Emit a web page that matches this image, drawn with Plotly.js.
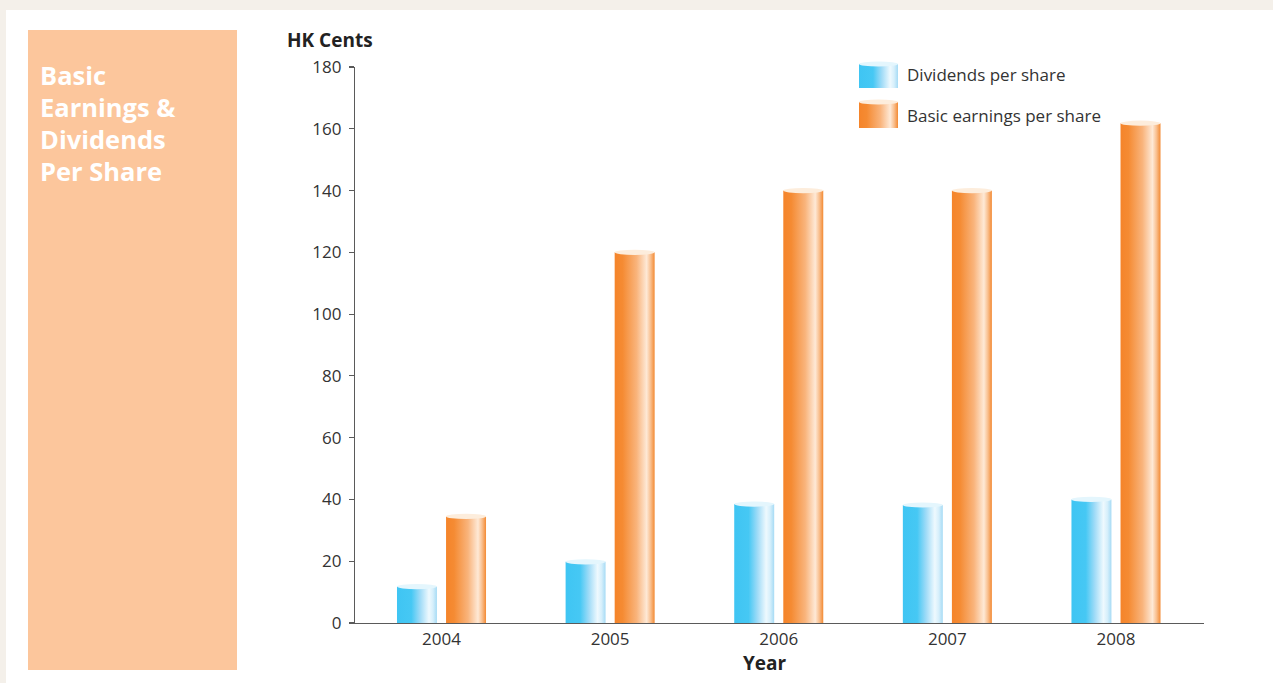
<!DOCTYPE html>
<html>
<head>
<meta charset="utf-8">
<script src="https://cdn.plot.ly/plotly-3.0.1.min.js"></script>
<style>
  html, body { margin: 0; padding: 0; width: 1273px; height: 683px; overflow: hidden; background: #f4f0ea; }
  #sheet { position: absolute; left: 6px; top: 10px; width: 1267px; height: 673px; background: #ffffff; }
  #band { position: absolute; left: 28px; top: 30px; width: 209px; height: 640px; background: #fcc69c; }
  #chart { position: absolute; left: 0; top: 0; width: 1273px; height: 683px; }
</style>
</head>
<body>
<div id="sheet"></div>
<div id="band"></div>
<div id="chart"></div>
<script>
// Per-share figures, HK cents
const years = ['2004', '2005', '2006', '2007', '2008'];
const dividendsPerShare = [11.8, 19.8, 38.5, 38.2, 40.0];
const basicEarningsPerShare = [34.5, 120.0, 140.0, 140.0, 161.8];
const yTicks = [0, 20, 40, 60, 80, 100, 120, 140, 160, 180];
const seriesNames = ['Dividends per share', 'Basic earnings per share'];
const panelTitleLines = ['Basic', 'Earnings &amp;', 'Dividends', 'Per Share'];

const W = 1273, H = 683;
const M = { l: 355, r: 69, t: 67, b: 60 };
const PW = W - M.l - M.r, PH = H - M.t - M.b;
const px2x = px => (px - M.l) / PW;
const py2y = py => (H - M.b - py) / PH;

const FONT = '"Open Sans", "Noto Sans", sans-serif';
const INK = '#333333';

const traces = [
  {
    type: 'bar', name: seriesNames[0], x: years, y: dividendsPerShare,
    offset: -0.264, width: 0.237,
    marker: { color: '#41c7f4', line: { width: 0 } },
    hoverinfo: 'skip', showlegend: false
  },
  {
    type: 'bar', name: seriesNames[1], x: years, y: basicEarningsPerShare,
    offset: 0.027, width: 0.237,
    marker: { color: '#f5862b', line: { width: 0 } },
    hoverinfo: 'skip', showlegend: false
  }
];

// Side panel heading, one annotation per line for even spacing
const panelAnnotations = panelTitleLines.map((line, i) => ({
  xref: 'paper', yref: 'paper', x: px2x(38), y: py2y(75 + i * 32),
  xanchor: 'left', yanchor: 'middle', align: 'left', showarrow: false,
  text: line,
  font: { family: FONT, size: 25.5, color: '#ffffff', weight: 700 }
}));

const layout = {
  width: W, height: H,
  margin: M,
  paper_bgcolor: 'rgba(0,0,0,0)',
  plot_bgcolor: 'rgba(0,0,0,0)',
  font: { family: FONT, size: 17, color: INK },
  showlegend: false,
  xaxis: {
    type: 'category',
    range: [-0.513, 4.522],
    showline: true, linecolor: '#5a5a5a', linewidth: 1.2,
    ticks: '', showgrid: false, zeroline: false,
    tickfont: { family: FONT, size: 17, color: INK },
    fixedrange: true
  },
  yaxis: {
    range: [0, 180],
    tickvals: yTicks,
    ticktext: yTicks.map(String),
    showline: true, linecolor: '#5a5a5a', linewidth: 1.2,
    ticks: 'outside', ticklen: 5, tickwidth: 1.2, tickcolor: '#5a5a5a',
    ticklabelstandoff: 4,
    showgrid: false, zeroline: false,
    tickfont: { family: FONT, size: 17, color: INK },
    fixedrange: true
  },
  annotations: panelAnnotations.concat([
    {
      xref: 'paper', yref: 'paper', x: px2x(285), y: py2y(40),
      xanchor: 'left', yanchor: 'middle', showarrow: false,
      text: '<b>HK Cents</b>',
      font: { family: FONT, size: 19, color: '#222222' }
    },
    {
      xref: 'paper', yref: 'paper', x: px2x(765), y: py2y(663),
      xanchor: 'center', yanchor: 'middle', showarrow: false,
      text: '<b>Year</b>',
      font: { family: FONT, size: 19, color: '#222222' }
    },
    {
      xref: 'paper', yref: 'paper', x: px2x(905), y: py2y(74),
      xanchor: 'left', yanchor: 'middle', showarrow: false,
      text: seriesNames[0],
      font: { family: FONT, size: 17, color: INK }
    },
    {
      xref: 'paper', yref: 'paper', x: px2x(905), y: py2y(115),
      xanchor: 'left', yanchor: 'middle', showarrow: false,
      text: seriesNames[1],
      font: { family: FONT, size: 17, color: INK }
    }
  ])
};

const SVGNS = 'http://www.w3.org/2000/svg';

// Cylinder shading: horizontal gradients with a pale highlight near the right edge
const shades = {
  blue: {
    cap: '#e4f6fd',
    stops: [[0, '#3fc5f3'], [0.36, '#46c8f4'], [0.58, '#9fdbf7'], [0.8, '#eef9fe'], [0.9, '#d6effb'], [1, '#a6dbf5']]
  },
  orange: {
    cap: '#fdeddc',
    stops: [[0, '#f5842a'], [0.2, '#f58b33'], [0.55, '#f9b47c'], [0.8, '#fee9d6'], [0.9, '#f9bf8e'], [1, '#f38a33']]
  }
};

function addGradient(defs, id, stops) {
  const g = document.createElementNS(SVGNS, 'linearGradient');
  g.setAttribute('id', id);
  g.setAttribute('x1', '0'); g.setAttribute('y1', '0');
  g.setAttribute('x2', '1'); g.setAttribute('y2', '0');
  stops.forEach(([o, c]) => {
    const s = document.createElementNS(SVGNS, 'stop');
    s.setAttribute('offset', o);
    s.setAttribute('stop-color', c);
    g.appendChild(s);
  });
  defs.appendChild(g);
}

function cylinder(parent, x, y, w, h, shade) {
  const r = document.createElementNS(SVGNS, 'rect');
  r.setAttribute('x', x); r.setAttribute('y', y);
  r.setAttribute('width', w); r.setAttribute('height', h);
  r.setAttribute('fill', 'url(#grad-' + shade + ')');
  parent.appendChild(r);
  const e = document.createElementNS(SVGNS, 'ellipse');
  e.setAttribute('cx', x + w / 2); e.setAttribute('cy', y);
  e.setAttribute('rx', w / 2); e.setAttribute('ry', 2.6);
  e.setAttribute('fill', shades[shade].cap);
  parent.appendChild(e);
}

const gd = document.getElementById('chart');
Plotly.newPlot(gd, traces, layout, { staticPlot: true, displayModeBar: false }).then(() => {
  const svg = gd.querySelector('.main-svg');
  let defs = svg.querySelector('defs');
  if (!defs) { defs = document.createElementNS(SVGNS, 'defs'); svg.insertBefore(defs, svg.firstChild); }
  addGradient(defs, 'grad-blue', shades.blue.stops);
  addGradient(defs, 'grad-orange', shades.orange.stops);

  const shadeOrder = ['blue', 'orange'];
  gd.querySelectorAll('.barlayer .trace').forEach((tr, i) => {
    const shade = shadeOrder[i];
    tr.querySelectorAll('.point path').forEach(p => {
      p.style.fill = 'url(#grad-' + shade + ')';
      const bb = p.getBBox();
      const e = document.createElementNS(SVGNS, 'ellipse');
      e.setAttribute('cx', bb.x + bb.width / 2);
      e.setAttribute('cy', bb.y);
      e.setAttribute('rx', bb.width / 2);
      e.setAttribute('ry', 2.6);
      e.setAttribute('fill', shades[shade].cap);
      p.parentNode.appendChild(e);
    });
  });

  // Key swatches beside the series names
  const key = document.createElementNS(SVGNS, 'g');
  key.setAttribute('class', 'key-swatches');
  svg.appendChild(key);
  cylinder(key, 859, 64, 39, 24, 'blue');
  cylinder(key, 859, 102, 39, 26, 'orange');
});
</script>
</body>
</html>
